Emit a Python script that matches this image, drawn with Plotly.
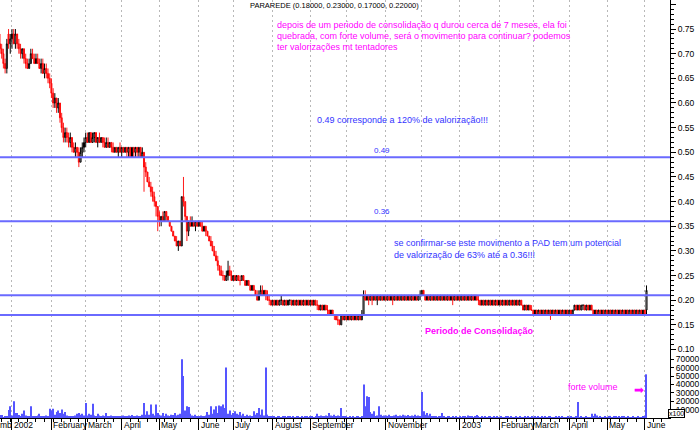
import pandas as pd
import plotly.graph_objects as go

TITLE = "PARAREDE (0.18000, 0.23000, 0.17000, 0.22000)"
FIRST_DATE = "2001-12-21"   # first trading day visible at the left edge

# Daily prices in euro cents (one row per month: Dec01, Jan02 ... Jun03)
OPEN_C = [
    72, 71, 70, 68, 67, 74, 72,
    73, 74, 72, 74, 72, 71, 70, 71, 69, 68, 67, 68, 70, 69, 68, 69, 68, 67, 68, 66, 67, 66, 65,
    64, 62, 60, 61, 59, 60, 57, 55, 53, 54, 53, 52, 53, 51, 50, 51, 50, 48, 50, 51,
    52, 53, 52, 54, 52, 53, 54, 52, 53, 52, 53, 52, 51, 52, 51, 52, 51, 50, 51, 50, 51,
    50, 51, 50, 51, 50, 51, 49, 51, 50, 51, 50, 51, 49, 50, 47, 46, 44, 43, 42, 41, 40, 39,
    37, 36, 37, 36, 38, 37, 36, 35, 34, 33, 32, 31, 32, 31, 41, 40, 37, 34, 36, 35, 36, 35, 36,
    35, 36, 35, 34, 35, 34, 33, 32, 31, 30, 29, 28, 27, 26, 25, 25, 24, 25, 26, 25,
    24, 25, 24, 25, 24, 24, 25, 24, 23, 24, 23, 22, 23, 22, 21, 20, 21, 22, 21, 22, 21, 20, 20,
    19, 20, 19, 20, 19, 20, 20, 19, 20, 19, 20, 20, 19, 20, 19, 20, 19, 20, 19, 20, 19, 20,
    19, 20, 19, 20, 19, 19, 18, 19, 18, 19, 18, 18, 17, 18, 17, 17, 16, 16, 15, 17, 16,
    17, 16, 17, 16, 17, 16, 17, 16, 17, 16, 17, 21, 20, 21, 20, 21, 20, 21, 20, 21, 20, 21, 20,
    21, 20, 21, 20, 21, 20, 21, 20, 21, 20, 21, 20, 21, 20, 21, 20, 21, 20, 21, 20, 21,
    21, 22, 21, 20, 21, 20, 21, 20, 21, 20, 21, 20, 21, 20, 21, 20, 21, 20, 21, 20, 21, 20,
    21, 20, 21, 20, 21, 20, 21, 20, 21, 20, 21, 20, 20, 19, 20, 19, 20, 19, 20, 19, 20, 19, 20,
    19, 20, 19, 20, 19, 20, 19, 20, 19, 20, 19, 20, 19, 20, 19, 18, 19, 18, 19, 18,
    18, 17, 18, 17, 18, 17, 18, 17, 18, 17, 18, 17, 18, 17, 18, 17, 18, 17, 18, 17, 18,
    17, 18, 17, 18, 19, 18, 19, 18, 19, 19, 18, 19, 18, 19, 18, 17, 18, 17, 18, 17, 18, 17,
    18, 17, 18, 17, 18, 17, 18, 17, 18, 17, 18, 17, 18, 17, 18, 17, 18, 17, 18, 17, 18, 17,
    18, 18,
]
HIGH_C = [
    74, 72, 71, 69, 73, 75, 74,
    75, 75, 75, 74, 73, 72, 71, 71, 70, 69, 69, 71, 71, 70, 70, 70, 69, 69, 69, 68, 68, 67, 66,
    65, 63, 62, 61, 61, 60, 58, 56, 55, 55, 54, 54, 53, 52, 52, 51, 51, 51, 52, 53,
    54, 54, 54, 54, 54, 54, 54, 53, 54, 53, 53, 53, 53, 53, 52, 52, 52, 51, 51, 51, 52,
    51, 51, 51, 51, 51, 51, 51, 51, 51, 51, 51, 51, 51, 50, 48, 46, 45, 44, 43, 42, 40, 39,
    38, 37, 38, 38, 38, 37, 36, 35, 34, 33, 33, 32, 32, 41, 45, 40, 37, 36, 37, 37, 36, 36, 36,
    36, 36, 36, 35, 35, 34, 33, 33, 32, 31, 30, 29, 27, 27, 26, 25, 26, 28, 27, 26,
    25, 25, 25, 25, 25, 25, 25, 24, 24, 24, 23, 23, 23, 22, 22, 22, 23, 23, 22, 22, 22, 21, 20,
    20, 20, 20, 20, 20, 21, 20, 20, 20, 20, 20, 20, 20, 20, 20, 20, 20, 20, 20, 20, 20, 20,
    20, 20, 20, 20, 20, 19, 19, 19, 19, 19, 19, 18, 18, 18, 17, 17, 17, 16, 17, 17, 17,
    17, 17, 17, 17, 17, 17, 17, 17, 17, 18, 22, 22, 21, 21, 21, 21, 21, 21, 21, 21, 21, 21, 21,
    21, 21, 21, 21, 21, 21, 21, 21, 21, 21, 21, 21, 21, 21, 21, 21, 21, 21, 21, 21, 22,
    22, 22, 21, 21, 21, 21, 21, 21, 21, 21, 21, 21, 21, 21, 21, 21, 21, 21, 21, 21, 21, 21,
    21, 21, 21, 21, 21, 21, 21, 21, 21, 21, 21, 21, 20, 20, 20, 20, 20, 20, 20, 20, 20, 20, 20,
    20, 20, 20, 20, 20, 20, 20, 20, 20, 20, 20, 20, 20, 20, 19, 19, 19, 19, 19, 19,
    18, 18, 18, 18, 18, 18, 18, 18, 18, 18, 18, 18, 18, 18, 18, 18, 18, 18, 18, 18, 18,
    18, 18, 18, 19, 19, 19, 19, 19, 19, 19, 19, 19, 19, 19, 18, 18, 18, 18, 18, 18, 18, 18,
    18, 18, 18, 18, 18, 18, 18, 18, 18, 18, 18, 18, 18, 18, 18, 18, 18, 18, 18, 18, 18, 18,
    18, 23,
]
LOW_C = [
    70, 69, 67, 66, 66, 71, 70,
    71, 72, 71, 71, 70, 69, 69, 68, 67, 67, 67, 68, 69, 68, 68, 68, 67, 66, 66, 65, 65, 64, 63,
    61, 59, 59, 58, 58, 56, 54, 52, 52, 52, 51, 51, 50, 50, 49, 49, 47, 48, 49, 50,
    51, 52, 52, 52, 52, 52, 52, 51, 52, 52, 51, 51, 51, 51, 51, 50, 50, 50, 50, 49, 50,
    49, 50, 50, 49, 49, 49, 49, 49, 49, 49, 49, 49, 49, 42, 45, 44, 43, 41, 40, 39, 37, 34,
    35, 35, 36, 36, 36, 36, 35, 34, 33, 32, 31, 30, 31, 31, 39, 36, 32, 33, 35, 35, 35, 34, 35,
    35, 35, 34, 34, 33, 33, 32, 31, 30, 29, 28, 26, 25, 25, 24, 24, 24, 24, 25, 24,
    24, 24, 24, 24, 23, 24, 24, 23, 23, 23, 22, 22, 22, 21, 20, 20, 21, 21, 21, 20, 20, 19, 19,
    19, 19, 19, 19, 19, 19, 19, 19, 19, 19, 19, 19, 19, 19, 19, 19, 19, 19, 19, 19, 19, 19,
    19, 19, 19, 19, 18, 18, 18, 18, 18, 18, 17, 17, 17, 17, 16, 16, 15, 15, 15, 16, 16,
    16, 16, 16, 16, 16, 16, 16, 16, 16, 16, 17, 20, 20, 19, 20, 19, 20, 20, 19, 20, 20, 20, 20,
    20, 20, 20, 20, 19, 20, 20, 20, 20, 20, 20, 20, 20, 20, 20, 20, 20, 20, 20, 20, 20,
    21, 21, 20, 20, 20, 20, 20, 20, 20, 20, 20, 20, 20, 20, 20, 20, 20, 20, 19, 20, 20, 20,
    20, 20, 20, 20, 20, 20, 20, 20, 20, 20, 20, 19, 19, 19, 19, 19, 19, 19, 19, 19, 19, 19, 19,
    19, 19, 19, 19, 19, 19, 19, 19, 19, 19, 19, 19, 19, 19, 18, 18, 18, 18, 18, 18,
    17, 17, 17, 17, 17, 17, 17, 17, 17, 17, 16, 17, 17, 17, 17, 17, 17, 17, 17, 17, 17,
    17, 17, 17, 18, 18, 18, 18, 18, 18, 18, 18, 18, 18, 18, 17, 17, 17, 17, 17, 17, 17, 17,
    17, 17, 17, 17, 17, 17, 17, 17, 17, 17, 17, 17, 17, 17, 17, 17, 17, 17, 17, 17, 17, 17,
    17, 17,
]
CLOSE_C = [
    71, 70, 68, 67, 72, 72, 73,
    74, 72, 74, 72, 71, 70, 71, 69, 68, 67, 68, 70, 69, 68, 69, 68, 67, 68, 66, 67, 66, 65, 64,
    62, 60, 61, 59, 60, 57, 55, 53, 54, 53, 52, 53, 51, 50, 51, 50, 48, 50, 51, 52,
    53, 52, 54, 52, 53, 54, 52, 53, 52, 53, 52, 51, 52, 51, 52, 51, 50, 51, 50, 51, 50,
    51, 50, 51, 50, 51, 49, 51, 50, 51, 50, 51, 49, 50, 47, 46, 44, 43, 42, 41, 40, 39, 37,
    36, 37, 36, 38, 37, 36, 35, 34, 33, 32, 31, 32, 31, 41, 40, 37, 34, 36, 35, 36, 35, 36, 35,
    36, 35, 34, 35, 34, 33, 32, 31, 30, 29, 28, 27, 26, 25, 25, 24, 25, 26, 25, 24,
    25, 24, 25, 24, 24, 25, 24, 23, 24, 23, 22, 23, 22, 21, 20, 21, 22, 21, 22, 21, 20, 20, 19,
    20, 19, 20, 19, 20, 20, 19, 20, 19, 20, 20, 19, 20, 19, 20, 19, 20, 19, 20, 19, 20, 19,
    20, 19, 20, 19, 19, 18, 19, 18, 19, 18, 18, 17, 18, 17, 17, 16, 16, 15, 17, 16, 17,
    16, 17, 16, 17, 16, 17, 16, 17, 16, 17, 21, 20, 21, 20, 21, 20, 21, 20, 21, 20, 21, 20, 21,
    20, 21, 20, 21, 20, 21, 20, 21, 20, 21, 20, 21, 20, 21, 20, 21, 20, 21, 20, 21, 21,
    22, 21, 20, 21, 20, 21, 20, 21, 20, 21, 20, 21, 20, 21, 20, 21, 20, 21, 20, 21, 20, 21,
    20, 21, 20, 21, 20, 21, 20, 21, 20, 21, 20, 20, 19, 20, 19, 20, 19, 20, 19, 20, 19, 20, 19,
    20, 19, 20, 19, 20, 19, 20, 19, 20, 19, 20, 19, 20, 19, 18, 19, 18, 19, 18, 18,
    17, 18, 17, 18, 17, 18, 17, 18, 17, 18, 17, 18, 17, 18, 17, 18, 17, 18, 17, 18, 17,
    18, 17, 18, 19, 18, 19, 18, 19, 19, 18, 19, 18, 19, 18, 17, 18, 17, 18, 17, 18, 17, 18,
    17, 18, 17, 18, 17, 18, 17, 18, 17, 18, 17, 18, 17, 18, 17, 18, 17, 18, 17, 18, 17, 18,
    17, 22,
]
# Daily volume (chart units, x100)
VOLUME = [
    3500, 3500, 1000, 1500, 2500, 9500, 14000,
    3000, 20000, 6000, 6000, 3500, 2000, 5000, 9000, 3000, 2000, 2500, 14000, 2000, 2500, 1500, 3000, 5000, 2000, 2500, 2000, 3000, 1500, 11000,
    9000, 11000, 4000, 7000, 9000, 6000, 10000, 5000, 7000, 3000, 2000, 2500, 1500, 2000, 3000, 5000, 6000, 4000, 5000, 3000,
    18000, 3000, 5000, 4000, 17000, 3000, 2500, 5000, 3000, 2000, 3000, 2500, 6000, 2000, 1500, 3000, 2000, 1500, 2000, 2500, 1500,
    2000, 3000, 1500, 2500, 3000, 2000, 3500, 2000, 2500, 3000, 2000, 1500, 4000, 18000, 4000, 8000, 4000, 16000, 5000, 3000, 16000, 6000,
    4000, 3000, 6000, 2500, 5000, 3000, 2000, 4000, 3500, 6000, 3000, 4000, 5000, 70000, 50000, 9000, 14000, 13000, 5000, 3000, 2000, 4000, 2500,
    2000, 3000, 1500, 2500, 3000, 7000, 4000, 14000, 5000, 10000, 14000, 6000, 15000, 14000, 16000, 12000, 60000, 5000, 9000, 4000,
    6000, 8000, 5000, 4000, 7000, 3000, 5000, 2000, 4000, 2000, 3000, 2500, 8000, 4000, 6000, 12000, 4000, 10000, 3000, 60000, 4000, 2000, 1500,
    1500, 2000, 1000, 2500, 1500, 1000, 2000, 1500, 1000, 2500, 1500, 1000, 2000, 1000, 1500, 2000, 1000, 1500, 1000, 2000, 1500, 1000,
    1500, 2000, 1000, 2000, 5000, 2000, 3000, 1500, 2500, 3000, 2000, 6000, 3000, 2000, 4000, 2500, 3000, 2000, 12000, 2000, 1500,
    1500, 1000, 2000, 1000, 1500, 1000, 2000, 1500, 1000, 2500, 40000, 14000, 26000, 25000, 7000, 5000, 8000, 2000, 3000, 14000, 4000, 2000, 3000,
    3000, 2000, 4000, 2500, 2000, 3000, 4000, 2000, 3000, 2500, 4000, 3000, 2000, 3500, 2500, 3000, 2000, 4000, 2500, 3000, 2000,
    31000, 8000, 4000, 6000, 3000, 5000, 2000, 1500, 2000, 1000, 2500, 1500, 6000, 2000, 1000, 1500, 2000, 1000, 1500, 1000, 2000, 1000,
    1500, 1000, 2000, 1500, 1000, 3000, 1500, 2000, 1000, 2500, 3500, 1500, 1000, 2000, 1000, 1500, 1000, 2000, 1500, 1000, 1500, 1000, 2000,
    1000, 1500, 1000, 1000, 2500, 1500, 1000, 1500, 1000, 1000, 2000, 1000, 1500, 1000, 1000, 1500, 1000, 2000, 1000, 1500,
    1000, 1500, 1000, 2500, 1000, 1500, 1000, 2000, 1000, 1500, 2000, 1000, 1000, 1500, 1000, 2000, 1000, 1500, 1000, 1000, 1500,
    1000, 1500, 1000, 1000, 1500, 19000, 1000, 1500, 1000, 1000, 1500, 1000, 1000, 5000, 2000, 5000, 3000, 1000, 1500, 1000, 1000, 1500,
    1000, 1500, 2500, 1000, 1500, 2500, 1000, 2000, 1000, 1500, 2500, 1000, 1500, 1000, 1000, 1500, 1000, 1000, 1500, 1000, 1000, 1500,
    1500, 52000,
]

MONTH_LABELS = ["2002", "February", "March", "April", "May", "June", "July", "August",
                "September", "", "November", "", "2003", "February", "March", "April",
                "May", "June"]
PRICE_TICKS = [0.10, 0.15, 0.20, 0.25, 0.30, 0.35, 0.40, 0.45, 0.50, 0.55, 0.60, 0.65,
               0.70, 0.75, 0.80]
VOLUME_TICKS = [10000, 20000, 30000, 40000, 50000, 60000, 70000]
LEVELS = [0.49, 0.36, 0.21, 0.17]

NOTE_TOP = ["depois de um periodo de consolidação q durou cerca de 7 meses, ela foi",
            "quebrada, com forte volume, será o movimento para continuar? podemos",
            "ter valorizações mt tentadores"]
NOTE_049 = "0.49 corresponde a 120% de valorização!!!"
NOTE_PAD = ["se confirmar-se este movimento a PAD tem um potencial",
            "de valorização de 63% até a 0.36!!!"]

n = len(CLOSE_C)
assert len(OPEN_C) == len(HIGH_C) == len(LOW_C) == len(VOLUME) == n
dates = pd.bdate_range(FIRST_DATE, periods=n)
pos = list(range(n))
month_pos = [k for k in range(1, n) if dates[k].month != dates[k - 1].month]

FONT = "Liberation Sans, Arial, sans-serif"
MAGENTA = "#ff00ff"
BLUE = "#3333ff"
PW, PH = 672.0, 418.0

fig = go.Figure()
fig.add_trace(go.Candlestick(
    x=pos, open=[v / 100 for v in OPEN_C], high=[v / 100 for v in HIGH_C],
    low=[v / 100 for v in LOW_C], close=[v / 100 for v in CLOSE_C],
    xaxis="x", yaxis="y", whiskerwidth=0,
    increasing=dict(line=dict(color="black", width=1), fillcolor="white"),
    decreasing=dict(line=dict(color="#ff0000", width=0.9), fillcolor="#ff2020"),
    showlegend=False, hoverinfo="skip"))
fig.add_trace(go.Bar(
    x=pos, y=VOLUME, xaxis="x", yaxis="y2", width=0.6,
    marker=dict(color="#5555ff", line=dict(width=0)), showlegend=False, hoverinfo="skip"))

shapes = [dict(type="line", xref="paper", x0=0, x1=1, yref="y", y0=lv, y1=lv,
               line=dict(color="#6a6aff", width=2)) for lv in LEVELS]

ann = []


def txt(xpix, ypix, s, size=9, color="black", anchor="left"):
    ann.append(dict(xref="paper", yref="paper", x=xpix / PW, y=1 - ypix / PH, text=s,
                    showarrow=False, xanchor=anchor, yanchor="middle",
                    font=dict(family=FONT, size=size, color=color)))


txt(335, 6, TITLE, 7.5, "black", "center")
for j, line in enumerate(NOTE_TOP):
    txt(276, 25.5 + 10.8 * j, line, 9, MAGENTA)
txt(316, 120, NOTE_049, 9, BLUE)
txt(383, 150.5, "0.49", 8, BLUE, "center")
txt(383, 211, "0.36", 8, BLUE, "center")
txt(393, 243, NOTE_PAD[0], 9, BLUE)
txt(393, 255, NOTE_PAD[1], 9, BLUE)
txt(424, 331, "<b>Periodo de Consolidação</b>", 9, MAGENTA)
txt(568, 387, "forte volume", 9, MAGENTA)
txt(641, 390, "➡", 12, MAGENTA, "center")
txt(-2, 425, "mb", 8.5, "black", "left")
ann.append(dict(xref="paper", yref="paper", x=679 / PW, y=1 - 413 / PH, text="x100",
                showarrow=False, xanchor="center", yanchor="middle", bgcolor="white",
                bordercolor="black", borderwidth=1, borderpad=0,
                font=dict(family=FONT, size=7, color="black")))
for k, lab in zip(month_pos, MONTH_LABELS):
    if lab:
        ann.append(dict(xref="x", yref="paper", x=k, y=1 - 425 / PH, text=lab,
                        showarrow=False, xanchor="left", yanchor="middle",
                        font=dict(family=FONT, size=8.5, color="black")))

tickfont = dict(family=FONT, size=8.5, color="black")
fig.update_layout(
    width=700, height=430, margin=dict(l=0, r=28, t=0, b=12),
    paper_bgcolor="white", plot_bgcolor="white", showlegend=False, boxgap=0.15,
    shapes=shapes, annotations=ann,
    xaxis=dict(range=[0.02, 390.7], anchor="y2", tickmode="array", tickvals=month_pos,
               showticklabels=False, ticks="outside", ticklen=12, tickcolor="black",
               showline=True, linecolor="black", linewidth=1, zeroline=False,
               showgrid=True, gridcolor="#b8b8b8", griddash="2px,3px", gridwidth=1,
               rangeslider=dict(visible=False),
               minor=dict(ticks="outside", ticklen=3, tickcolor="black", tickmode="linear",
                          tick0=1, dtick=5, showgrid=False)),
    yaxis=dict(domain=[68 / PH, 1], range=[0.099, 0.8089], side="right", anchor="x",
               tickmode="array", tickvals=PRICE_TICKS,
               ticktext=[f"{v:.2f}" for v in PRICE_TICKS], ticks="outside", ticklen=5,
               tickcolor="black", showline=True, linecolor="black", showgrid=False,
               zeroline=False, tickfont=tickfont,
               minor=dict(ticks="outside", ticklen=3, tickcolor="black", tickmode="linear",
                          tick0=0.10, dtick=0.01)),
    yaxis2=dict(domain=[0, 68 / PH], range=[0, 80952], side="right", anchor="x",
                tickmode="array", tickvals=VOLUME_TICKS,
                ticktext=[str(v) for v in VOLUME_TICKS], ticks="outside", ticklen=3,
                tickcolor="black", showline=True, linecolor="black", showgrid=False,
                zeroline=False, tickfont=tickfont),
)

fig.write_html("out.html", config={"displayModeBar": False},
               post_script="document.body.style.margin='0';document.body.style.overflow='hidden';")
